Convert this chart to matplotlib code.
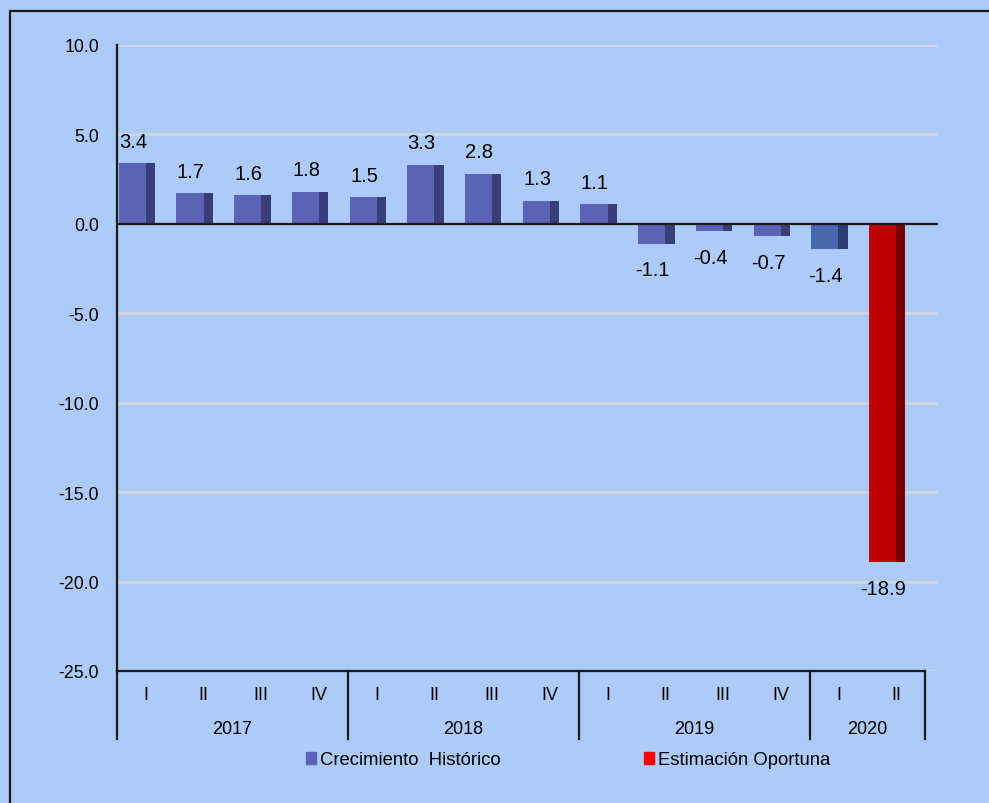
import numpy as np
import matplotlib.pyplot as plt
from matplotlib.patches import Patch, Rectangle
from matplotlib.lines import Line2D

plt.rcParams['font.family'] = ['Liberation Sans', 'DejaVu Sans']

# Data
years = ['2017', '2018', '2019', '2020']
quarters_per_year = [4, 4, 4, 2]
quarters = ['I', 'II', 'III', 'IV', 'I', 'II', 'III', 'IV',
            'I', 'II', 'III', 'IV', 'I', 'II']
values = [3.4, 1.7, 1.6, 1.8, 1.5, 3.3, 2.8, 1.3, 1.1,
          -1.1, -0.4, -0.7, -1.4, -18.9]

bg = '#ADCBF8'
W, H = 989, 804
fig = plt.figure(figsize=(W / 100, H / 100), dpi=100, facecolor=bg)

# axes placed in pixel terms
left, right, top, bottom = 117, 938, 46, 672
ax = fig.add_axes([left / W, 1 - bottom / H, (right - left) / W, (bottom - top) / H])
ax.set_facecolor(bg)

n = len(values)
x = np.arange(n)
cat_w = (925 - 117) / 14
ax.set_xlim(-0.5, -0.5 + (right - left) / cat_w)
ax.set_ylim(-25, 10)

# colours per bar
front = ['#5B63B7'] * 12 + ['#4868B0', '#C00000']
side = ['#393E7A'] * 12 + ['#2D3F70', '#780000']

# gridlines
for y in np.arange(-25, 10.1, 5):
    if y == 0:
        continue
    ax.axhline(y, color='#D3D6DC', lw=2, zorder=0)

ax.bar(x - 0.47, values, width=0.47, align='edge', color=front, zorder=2)
ax.bar(x, values, width=0.16, align='edge', color=side, zorder=2)
ax.axhline(0, color='#1a1a1a', lw=1.6, zorder=3)

# value labels
for xi, v in zip(x, values):
    if v >= 0:
        ax.annotate(f'{v:.1f}', (xi - 0.22, v), xytext=(0, 9), textcoords='offset points',
                    ha='center', va='bottom', fontsize=14.5)
    else:
        ax.annotate(f'{v:.1f}', (xi - 0.22, v), xytext=(0, -12), textcoords='offset points',
                    ha='center', va='top', fontsize=14.5)

# y axis
ax.set_yticks(np.arange(-25, 10.1, 5))
ax.set_yticklabels([f'{t:.1f}' for t in np.arange(-25, 10.1, 5)], fontsize=12.8)
ax.tick_params(axis='y', length=0, pad=13)
for s in ['top', 'right', 'bottom']:
    ax.spines[s].set_visible(False)
ax.spines['left'].set_linewidth(1.6)
ax.spines['left'].set_color('#1a1a1a')

# x axis: quarters and years
ax.set_xticks(x - 0.0)
ax.set_xticklabels(quarters, fontsize=13)
ax.tick_params(axis='x', length=0, pad=11)
ax.plot([-0.5, n - 0.5], [-25, -25], color='#1a1a1a', lw=1.6, clip_on=False, zorder=4)

tr = ax.get_xaxis_transform()
h_ax = bottom - top
y_sep = -(740 - bottom) / h_ax
y_year = -(730 - bottom) / h_ax
start = -0.5
bounds = [start]
for yr, nq in zip(years, quarters_per_year):
    end = start + nq
    ax.text((start + end) / 2, y_year, yr, transform=tr, ha='center', va='center', fontsize=13)
    bounds.append(end)
    start = end
for b in bounds:
    ax.add_line(Line2D([b, b], [0, y_sep], transform=tr, color='#1a1a1a', lw=1.6, clip_on=False))

# legend
handles = [Patch(color='#5B63B7', label='Crecimiento  Histórico'),
           Patch(color='#FF0000', label='Estimación Oportuna')]
fig.legend(handles=handles, loc='center', bbox_to_anchor=(568 / W, 1 - 761 / H), ncol=2,
           frameon=False, fontsize=13.3, handlelength=0.55, handleheight=0.55,
           handletextpad=0.2, columnspacing=7.8)

# outer frame
fig.add_artist(Rectangle((10 / W, -0.1), 1.2, 1.1 - 12 / H, transform=fig.transFigure,
                         fill=False, edgecolor='#1a1a1a', lw=1.6))

fig.savefig('out.png', dpi=100, facecolor=bg)
